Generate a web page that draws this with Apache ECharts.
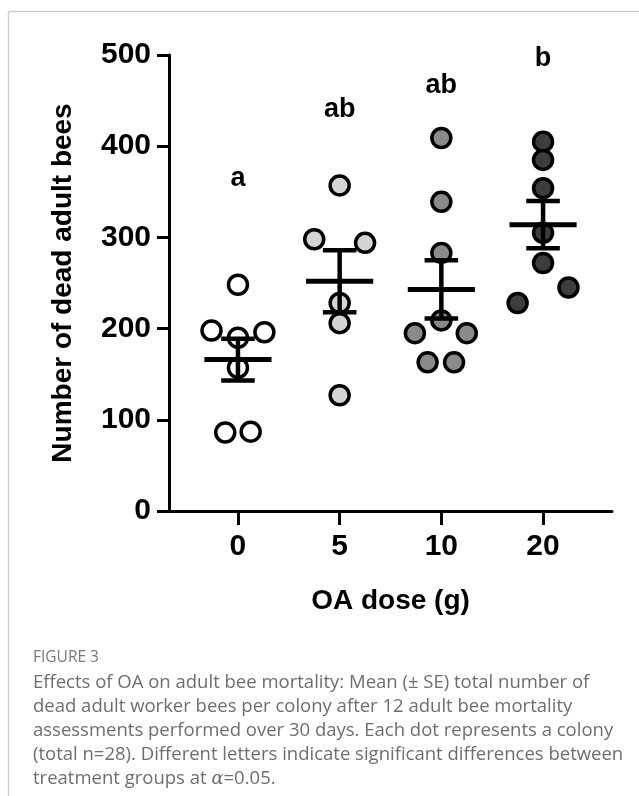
<!DOCTYPE html>
<html>
<head>
<meta charset="utf-8">
<script src="https://cdn.jsdelivr.net/npm/echarts@6/dist/echarts.min.js"></script>
<style>
html,body{margin:0;padding:0;background:#fff;}
#chart{width:639px;height:796px;}
</style>
</head>
<body>
<div id="chart"></div>
<script>
// ---- data ----
const categories = ['0', '5', '10', '20'];
const dose0 = [248, 198, 196, 190, 157, 86, 87];
const dose5 = [357, 298, 294, 228, 206, 127];
const dose10 = [409, 339, 283, 209, 195, 195, 163, 163];
const dose20 = [405, 385, 354, 305, 272, 245, 228];
// horizontal scatter offset of each dot (in category units)
const jitter0 = [0, -0.26, 0.26, 0, 0, -0.125, 0.125];
const jitter5 = [0, -0.25, 0.25, 0, 0, 0];
const jitter10 = [0, 0, 0, 0, -0.26, 0.25, -0.135, 0.125];
const jitter20 = [0, 0, 0, 0, 0, 0.25, -0.25];
const means = [166, 252, 243, 314];
const ses = [23, 34, 32, 26];
const letters = ['a', 'ab', 'ab', 'b'];
const letterY = [365, 440, 466, 496];
const yTicks = [0, 100, 200, 300, 400, 500];

const groups = [dose0, dose5, dose10, dose20];
const jitters = [jitter0, jitter5, jitter10, jitter20];
const fills = ['#ffffff', '#d4d4d4', '#8a8a8a', '#3d3d3d'];

const chart = echarts.init(document.getElementById('chart'), null, {renderer: 'canvas'});
const FONT = 'Liberation Sans';

const scatterSeries = groups.map((vals, gi) => ({
  type: 'scatter',
  name: 'dose ' + categories[gi],
  data: vals.map((v, k) => [gi + jitters[gi][k], v]),
  symbol: 'circle',
  symbolSize: 19,
  itemStyle: {color: fills[gi], borderColor: '#000', borderWidth: 3.5, opacity: 1},
  emphasis: {disabled: true},
  z: 2
}));

const option = {
  animation: false,
  backgroundColor: '#fff',
  grid: {left: 169, right: 27, top: 55, bottom: 285, containLabel: false, outerBoundsMode: 'none'},
  xAxis: {
    type: 'value',
    min: -0.678,
    max: 3.678,
    splitLine: {show: false},
    axisLine: {show: true, onZero: false, lineStyle: {color: '#000', width: 3}},
    axisTick: {show: true, customValues: [0, 1, 2, 3], length: 14, lineStyle: {color: '#000', width: 3}},
    axisLabel: {
      show: true, customValues: [0, 1, 2, 3],
      formatter: v => categories[Math.round(v)],
      color: '#000', fontFamily: FONT, fontWeight: 'bold', fontSize: 30, margin: 21
    },
    name: 'OA dose (g)',
    nameLocation: 'middle',
    nameGap: 76,
    nameTextStyle: {color: '#000', fontFamily: FONT, fontWeight: 'bold', fontSize: 28}
  },
  yAxis: {
    type: 'value',
    min: 0,
    max: 500,
    interval: 100,
    splitLine: {show: false},
    axisLine: {show: true, onZero: false, lineStyle: {color: '#000', width: 3}},
    axisTick: {show: true, length: 12, lineStyle: {color: '#000', width: 3}},
    axisLabel: {
      color: '#000', fontFamily: FONT, fontWeight: 'bold', fontSize: 30, margin: 18,
      formatter: v => String(v)
    },
    name: 'Number of dead adult bees',
    nameLocation: 'middle',
    nameGap: 92,
    nameRotate: 90,
    nameTextStyle: {color: '#000', fontFamily: FONT, fontWeight: 'bold', fontSize: 28}
  },
  series: scatterSeries.concat([
    {
      type: 'custom',
      name: 'mean ± SE',
      data: means.map((m, i) => [i, m, ses[i]]),
      renderItem: function (params, api) {
        const i = api.value(0), m = api.value(1), se = api.value(2);
        const pL = api.coord([i - 0.33, m]), pR = api.coord([i + 0.33, m]);
        const top = api.coord([i, m + se]), bot = api.coord([i, m - se]);
        const capTL = api.coord([i - 0.165, m + se]), capTR = api.coord([i + 0.165, m + se]);
        const capBL = api.coord([i - 0.165, m - se]), capBR = api.coord([i + 0.165, m - se]);
        const st = {stroke: '#000', lineWidth: 4.5};
        return {
          type: 'group',
          children: [
            {type: 'line', shape: {x1: top[0], y1: top[1], x2: bot[0], y2: bot[1]}, style: st},
            {type: 'line', shape: {x1: capTL[0], y1: capTL[1], x2: capTR[0], y2: capTR[1]}, style: st},
            {type: 'line', shape: {x1: capBL[0], y1: capBL[1], x2: capBR[0], y2: capBR[1]}, style: st},
            {type: 'line', shape: {x1: pL[0], y1: pL[1], x2: pR[0], y2: pR[1]}, style: {stroke: '#000', lineWidth: 5}}
          ]
        };
      },
      z: 5
    },
    {
      type: 'custom',
      name: 'letters',
      data: letterY.map((y, i) => [i, y]),
      renderItem: function (params, api) {
        const p = api.coord([api.value(0), api.value(1)]);
        return {
          type: 'text',
          x: p[0], y: p[1],
          style: {
            text: letters[params.dataIndex],
            fill: '#000',
            font: 'bold 27px "Liberation Sans"',
            align: 'center',
            verticalAlign: 'middle'
          }
        };
      },
      z: 6
    }
  ]),
  graphic: [
    {type: 'line', shape: {x1: 8.5, y1: 11.5, x2: 639, y2: 11.5}, style: {stroke: '#cfcfcf', lineWidth: 1.5}},
    {type: 'line', shape: {x1: 8.5, y1: 11.5, x2: 8.5, y2: 796}, style: {stroke: '#cfcfcf', lineWidth: 1.5}},
    {
      type: 'text', left: 33, top: 650,
      style: {text: 'FIGURE 3', fill: '#7a7a7a', font: '15.5px "Open Sans"'}
    },
    {
      type: 'text', left: 33, top: 671,
      style: {
        text: 'Effects of OA on adult bee mortality: Mean (± SE) total number of\n' +
              'dead adult worker bees per colony after 12 adult bee mortality\n' +
              'assessments performed over 30 days. Each dot represents a colony\n' +
              '(total n=28). Different letters indicate significant differences between\n' +
              'treatment groups at {a|α}=0.05.',
        fill: '#6e6e6e',
        font: '18.5px "Open Sans"',
        lineHeight: 24,
        rich: {a: {fontStyle: 'italic', fontFamily: 'DejaVu Serif', fontSize: 18, fill: '#6e6e6e', lineHeight: 24}}
      }
    }
  ]
};
chart.setOption(option);
</script>
</body>
</html>
